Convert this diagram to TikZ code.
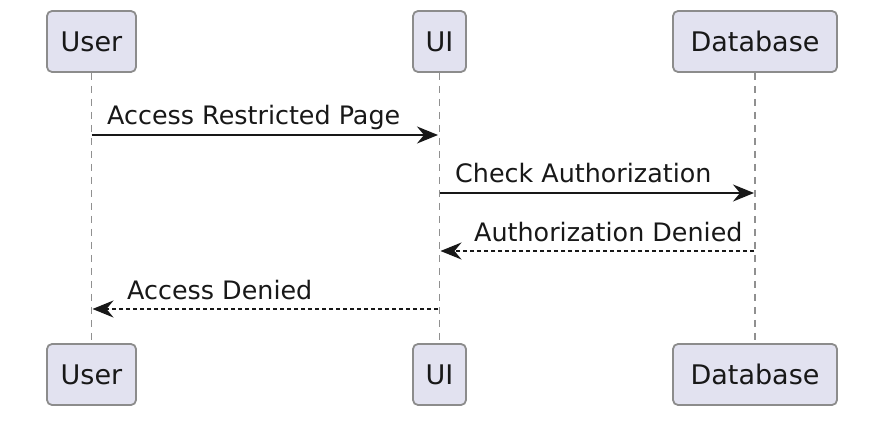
\documentclass[tikz,border=0pt]{standalone}
\usepackage{fontspec}
\setmainfont{DejaVu Sans}
\usetikzlibrary{arrows.meta}
\definecolor{boxfill}{HTML}{E2E2F0}
\definecolor{boxline}{HTML}{8C8C8C}
\definecolor{inkc}{HTML}{181818}
\definecolor{lifec}{HTML}{909090}
\tikzset{
  part/.style={draw=boxline, fill=boxfill, line width=1.8pt, rounded corners=5pt,
    minimum height=61pt, inner sep=0pt, text=inkc,
    font=\fontsize{27}{32}\selectfont},
  life/.style={draw=lifec, line width=1.4pt, dash pattern=on 7pt off 6pt},
  msg/.style={draw=inkc, line width=1.8pt, -{Stealth[length=21pt,width=17pt,inset=7pt]}},
  reply/.style={msg, dash pattern=on 4pt off 3pt},
  lbl/.style={anchor=base west, inner sep=0pt, text=inkc, font=\fontsize{25.4}{30}\selectfont}
}
\begin{document}
\begin{tikzpicture}[x=1pt,y=-1pt]
\useasboundingbox (0,0) rectangle (896,438);
% participants
\node[part, minimum width=89pt] (userT) at (91.5,41.5) {User};
\node[part, minimum width=53pt] (uiT) at (439.5,41.5) {UI};
\node[part, minimum width=164pt] (dbT) at (755,41.5) {Database};
\node[part, minimum width=89pt] (userB) at (91.5,374.5) {User};
\node[part, minimum width=53pt] (uiB) at (439.5,374.5) {UI};
\node[part, minimum width=164pt] (dbB) at (755,374.5) {Database};
% lifelines
\draw[life] (userT.south) -- (userB.north);
\draw[life] (uiT.south) -- (uiB.north);
\draw[life] (dbT.south) -- (dbB.north);
% message points
\coordinate (m1a) at (91.5,135);
\coordinate (m1b) at (438,135);
\coordinate (m2a) at (439.5,193);
\coordinate (m2b) at (754,193);
\coordinate (m3a) at (754,251);
\coordinate (m3b) at (440.5,251);
\coordinate (m4a) at (438,309);
\coordinate (m4b) at (92.5,309);
% messages
\draw[msg] (m1a) -- (m1b);
\node[lbl] (l1) at (107,125) {Access Restricted Page};
\draw[msg] (m2a) -- (m2b);
\node[lbl] (l2) at (455,183) {Check Authorization};
\draw[reply] (m3a) -- (m3b);
\node[lbl] (l3) at (474,241) {Authorization Denied};
\draw[reply] (m4a) -- (m4b);
\node[lbl] (l4) at (127,299) {Access Denied};
\end{tikzpicture}
\end{document}
